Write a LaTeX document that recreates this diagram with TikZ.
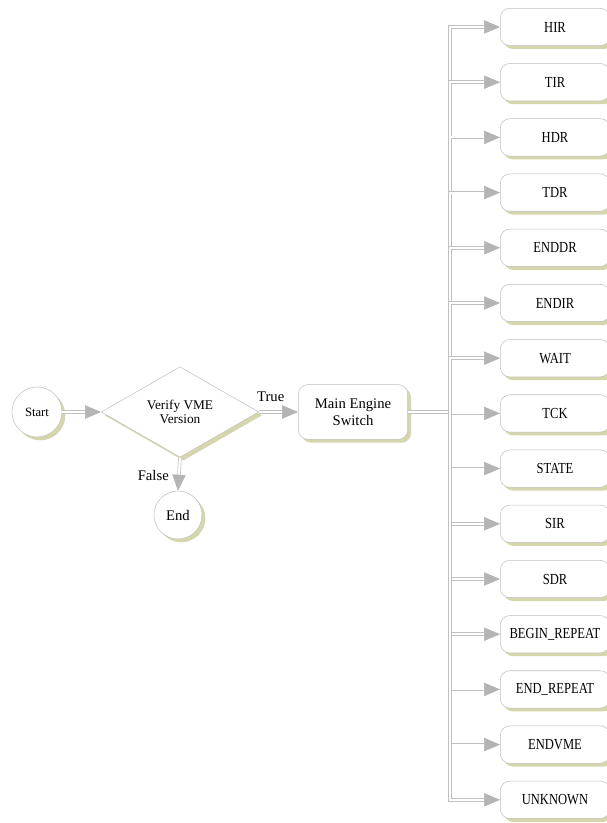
\documentclass[tikz,border=0pt]{standalone}
\usepackage{fontspec}
\setmainfont{Liberation Serif}
\newfontfamily\narrowserif{Liberation Serif}[FakeStretch=0.82]
\usetikzlibrary{positioning,arrows.meta,shapes.geometric,shadows}
\definecolor{shade}{RGB}{214,214,172}
\definecolor{rim}{RGB}{192,192,192}
\definecolor{tipgray}{RGB}{180,180,180}
\tikzset{
  softshadow/.style={drop shadow={shadow xshift=2.5pt,shadow yshift=-2.5pt,fill=shade,opacity=1}},
  termnode/.style={circle,draw=rim,fill=white,softshadow,inner sep=0pt},
  decision/.style={diamond,draw=rim,fill=white,softshadow,minimum width=118pt,minimum height=60pt,inner sep=0pt,align=center,font=\fontsize{10}{11}\selectfont},
  opbox/.style={rounded corners=7pt,draw=rim,fill=white,softshadow,minimum width=82pt,minimum height=28pt,inner sep=0pt,font=\narrowserif\fontsize{11.5}{13}\selectfont},
  link/.style={draw=rim,double=white,double distance=1.6pt,line width=0.5pt,
    -{Triangle[length=12pt,width=10pt,color=tipgray,fill=tipgray]}},
  plainlink/.style={draw=rim,double=white,double distance=1.6pt,line width=0.5pt}
}

\begin{document}
\begin{tikzpicture}[x=0.75pt,y=-0.75pt]
\useasboundingbox (0,0) rectangle (606,823);
% left part of the flow
\node[termnode,minimum size=37.5pt,font=\fontsize{9.5}{11}\selectfont] (start) at (37,412) {Start};
\node[decision] (verify) at (180,412) {Verify VME\\Version};
\node[termnode,minimum size=36pt,font=\fontsize{11}{12}\selectfont] (stop) at (178,515) {End};
\node[opbox,minimum width=82pt,minimum height=41pt,align=center,font=\fontsize{11}{13}\selectfont] (engine) at (353,412) {Main Engine\\Switch};
\coordinate (bus) at (450,412);
% the commands
\foreach \lbl [count=\i from 0] in {HIR,TIR,HDR,TDR,ENDDR,ENDIR,WAIT,TCK,STATE,SIR,SDR,BEGIN\_REPEAT,END\_REPEAT,ENDVME,UNKNOWN}
  {\node[opbox] (op\i) at (555,27+55.2*\i) {\lbl};}
% connectors
\draw[link] (start) -- (verify.west);
\draw[link] (verify.east) -- (engine.west) node[pos=0.3,above=4pt,font=\fontsize{11}{12}\selectfont] {True};
\draw[link] (verify.south) -- (stop.north) node[pos=0.55,left=4pt,font=\fontsize{11}{12}\selectfont] {False};
\draw[plainlink] (engine.east) -- (bus);
\foreach \i in {0,...,14}
  {\draw[link] (bus) |- (op\i.west);}
\end{tikzpicture}
\end{document}
